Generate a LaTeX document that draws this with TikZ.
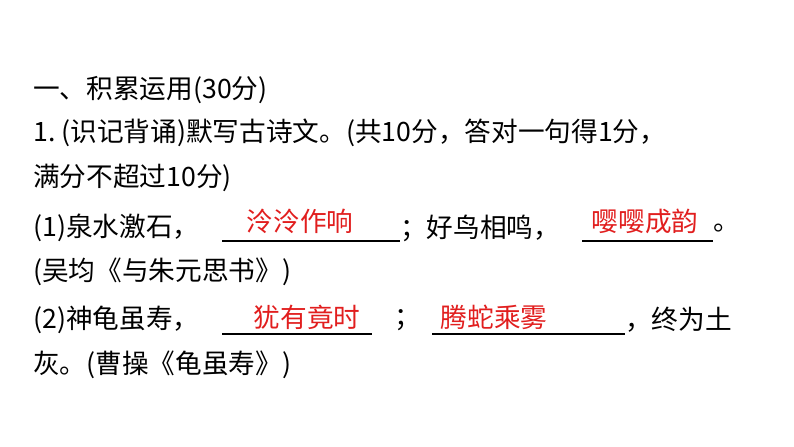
\documentclass[tikz,border=0pt]{standalone}
\usepackage{fontspec}
\setmainfont{Noto Sans CJK SC}
\definecolor{ans}{RGB}{225,30,30}
\tikzset{t/.style={anchor=west,inner sep=0pt,font=\fontsize{20}{24}\selectfont},
 a/.style={anchor=center,inner sep=0pt,text=ans,font=\fontsize{20}{24}\selectfont},
 ul/.style={line width=0.8pt}}
\begin{document}
\begin{tikzpicture}[x=0.75pt,y=-0.75pt]
\useasboundingbox (0,0) rectangle (794,447);
\node[t] (l1) at (33,90) {一、积累运用(30分)};
\node[t] (l2) at (33,133) {1.\ (识记背诵)默写古诗文。(共10分，答对一句得1分，};
\node[t] (l3) at (33,178) {满分不超过10分)};
\node[t] (l4a) at (33,228) {(1)泉水激石，};
\coordinate (u1a) at (222,241); \coordinate (u1b) at (400,241);
\draw[ul] (u1a) -- (u1b);
\node[a] (r1) at (300,221) {泠泠作响};
\node[t] (l4b) at (400,228) {；好鸟相鸣，};
\coordinate (u2a) at (582,241); \coordinate (u2b) at (713,241);
\draw[ul] (u2a) -- (u2b);
\node[a] (r2) at (645,221) {嘤嘤成韵};
\node[t] (l4c) at (713,228) {。};
\node[t] (l5) at (33,272) {(吴均《与朱元思书》)};
\node[t] (l6a) at (33,320) {(2)神龟虽寿，};
\coordinate (u3a) at (222,334); \coordinate (u3b) at (372,334);
\draw[ul] (u3a) -- (u3b);
\node[a] (r3) at (307,317) {犹有竟时};
\node[t] (l6b) at (394,320) {；};
\coordinate (u4a) at (432,334); \coordinate (u4b) at (625,334);
\draw[ul] (u4a) -- (u4b);
\node[a] (r4) at (494,317) {腾蛇乘雾};
\node[t] (l6c) at (625,320) {，终为土};
\node[t] (l7) at (33,365) {灰。(曹操《龟虽寿》)};
\end{tikzpicture}
\end{document}
